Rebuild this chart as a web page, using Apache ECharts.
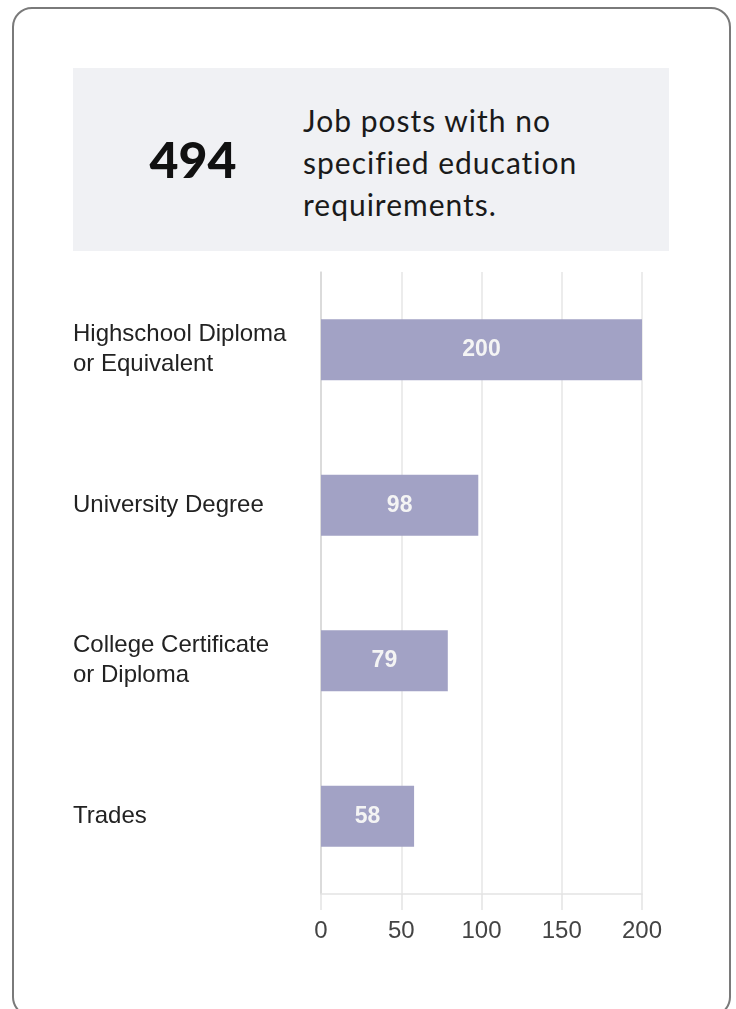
<!DOCTYPE html>
<html>
<head>
<meta charset="utf-8">
<script src="https://cdn.jsdelivr.net/npm/echarts@6/dist/echarts.min.js"></script>
<style>
  html, body { margin: 0; padding: 0; background: #fff; }
  body { width: 736px; height: 1009px; position: relative; overflow: hidden; }
  #card { position: absolute; left: 12px; top: 7px; width: 719px; height: 1010px;
          border: 2px solid #7a7a7a; border-radius: 20px; box-sizing: border-box; background: #fff; }
  #kpi { position: absolute; left: 73px; top: 68px; width: 596px; height: 183px; background: #f0f1f4; }
  #num { position: absolute; left: 40px; width: 160px; top: 0; height: 183px; line-height: 183px;
         text-align: center; font-family: Lato, sans-serif; font-weight: 900; font-size: 50px; color: #111; }
  #desc { position: absolute; left: 230px; top: 31px; font-family: Lato, sans-serif; font-size: 30px;
          letter-spacing: 1px; line-height: 42px; color: #1a1a1a; }
  #chart { position: absolute; left: 0; top: 0; width: 736px; height: 1009px; }
</style>
</head>
<body>
<div id="card"></div>
<div id="kpi">
  <div id="num"></div>
  <div id="desc"></div>
</div>
<div id="chart"></div>
<script>
const kpiValue = "494";
const kpiText = ["Job posts with no", "specified education", "requirements."];
const categories = ["Highschool Diploma\nor Equivalent", "University Degree", "College Certificate\nor Diploma", "Trades"];
const values = [200, 98, 79, 58];
const xTicks = [0, 50, 100, 150, 200];

document.getElementById('num').textContent = kpiValue;
document.getElementById('desc').innerHTML = kpiText.join('<br>');

const chart = echarts.init(document.getElementById('chart'), null, { renderer: 'canvas' });
chart.setOption({
  animation: false,
  backgroundColor: 'transparent',
  grid: { left: 321, right: 94, top: 272, bottom: 115, containLabel: false },
  xAxis: {
    type: 'value', min: xTicks[0], max: xTicks[xTicks.length - 1], interval: xTicks[1] - xTicks[0],
    axisLine: { show: true, lineStyle: { color: '#e3e3e3', width: 1.5 } },
    axisTick: { show: true, length: 16, lineStyle: { color: '#e3e3e3', width: 1.5 } },
    splitLine: { show: true, lineStyle: { color: '#e6e6e6', width: 1.5 } },
    axisLabel: { color: '#444', fontSize: 24, fontFamily: 'Liberation Sans, Arial, sans-serif', margin: 25 }
  },
  yAxis: {
    type: 'category', data: categories, inverse: true,
    axisLine: { show: true, lineStyle: { color: '#d6d6d6', width: 1.5 } },
    axisTick: { show: false },
    axisLabel: { color: '#222', fontSize: 24, lineHeight: 30, fontFamily: 'Liberation Sans, Arial, sans-serif',
                 align: 'left', margin: 248 }
  },
  series: [{
    type: 'bar', data: values, barWidth: 61,
    itemStyle: { color: '#a2a2c5' },
    label: { show: true, position: 'inside', color: '#f4f4f4', fontSize: 23, fontWeight: 'bold',
             fontFamily: 'Liberation Sans, Arial, sans-serif' }
  }]
});
</script>
</body>
</html>
